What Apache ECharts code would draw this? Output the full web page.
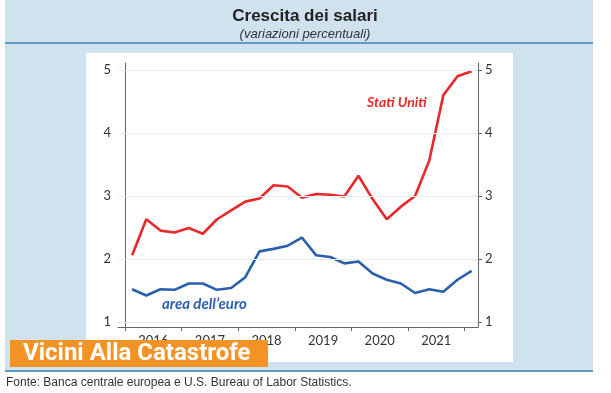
<!DOCTYPE html>
<html><head><meta charset="utf-8">
<script src="https://cdn.jsdelivr.net/npm/echarts@6/dist/echarts.min.js"></script>
<style>html,body{margin:0;padding:0;background:#fff}#c{width:611px;height:393px}</style>
</head><body><div id="c"></div>
<script>
const quarters = ['2016Q1','2016Q2','2016Q3','2016Q4','2017Q1','2017Q2','2017Q3','2017Q4',
  '2018Q1','2018Q2','2018Q3','2018Q4','2019Q1','2019Q2','2019Q3','2019Q4',
  '2020Q1','2020Q2','2020Q3','2020Q4','2021Q1','2021Q2','2021Q3','2021Q4','2022Q1'];
const statiUniti = [2.06,2.63,2.45,2.42,2.49,2.40,2.63,2.77,2.91,2.96,3.17,3.15,2.97,3.03,3.02,2.99,
  3.32,2.95,2.63,2.83,3.00,3.56,4.60,4.90,4.98];
const areaEuro = [1.52,1.42,1.52,1.51,1.61,1.61,1.51,1.54,1.71,2.12,2.16,2.21,2.34,2.06,2.03,1.93,
  1.96,1.77,1.67,1.61,1.46,1.52,1.48,1.67,1.81];
const years = ['2016','2017','2018','2019','2020','2021'];
const yTicks = [1,2,3,4,5];

const pos = i => i + 0.5;
const toPairs = arr => arr.map((v,i) => [pos(i), v]);
const yearTickVals = years.map((y,k) => k*4).concat([years.length*4]);
const yearLabelVals = years.map((y,k) => k*4 + 2);

const chart = echarts.init(document.getElementById('c'), null, {renderer:'canvas'});
const axisFont = {fontFamily:'Lato', fontSize:13, color:'#333'};
const yAxisCommon = {
  type:'value', min:0.92, max:5.11,
  axisLine:{show:true, lineStyle:{color:'#666', width:1}},
  axisTick:{show:true, length:4, lineStyle:{color:'#666'}, customValues: yTicks},
  axisLabel:Object.assign({margin:7, customValues: yTicks}, axisFont),
  splitLine:{show:false}
};
chart.setOption({
  animation:false,
  title:{
    text:'Crescita dei salari', subtext:'(variazioni percentuali)',
    left:300, textAlign:'center', top:3, itemGap:3,
    textStyle:{fontFamily:'Liberation Sans', fontSize:17, fontWeight:'bold', color:'#222'},
    subtextStyle:{fontFamily:'Liberation Sans', fontSize:13, fontStyle:'italic', color:'#333'}
  },
  grid:{left:118, right:133, top:63, bottom:66, containLabel:false},
  xAxis:{
    type:'value', min:-0.5, max:24.95,
    axisLine:{show:true, onZero:false, lineStyle:{color:'#666'}},
    axisTick:{show:true, length:4, lineStyle:{color:'#666'}, customValues: yearTickVals},
    axisLabel:Object.assign({margin:7, customValues: yearLabelVals,
      formatter: v => years[Math.round((v-2)/4)]}, axisFont),
    splitLine:{show:false}
  },
  yAxis:[
    Object.assign({position:'left'}, yAxisCommon),
    Object.assign({position:'right'}, yAxisCommon)
  ],
  series:[
    {name:'grid', type:'line', data:[], markLine:{silent:true, symbol:'none', label:{show:false},
      lineStyle:{color:'#e2eff3', width:1, type:'solid'},
      data: yTicks.map(v => ({yAxis:v}))}},
    {name:'Stati Uniti', type:'line', data:toPairs(statiUniti), showSymbol:false,
      lineStyle:{color:'#e8292c', width:2.6}, z:3},
    {name:"area dell'euro", type:'line', data:toPairs(areaEuro), showSymbol:false,
      lineStyle:{color:'#2a5fae', width:2.6}, z:3}
  ],
  graphic:[
    {type:'rect', z:-20, shape:{x:5, y:0, width:588, height:370}, style:{fill:'#d0e2ed'}},
    {type:'rect', z:-19, shape:{x:86, y:53, width:427, height:309}, style:{fill:'#ffffff'}},
    {type:'line', z:-18, shape:{x1:5, y1:43, x2:593, y2:43}, style:{stroke:'#5f9bbd', lineWidth:2}},
    {type:'line', z:-18, shape:{x1:5, y1:371, x2:593, y2:371}, style:{stroke:'#5f9bbd', lineWidth:2}},
    {type:'text', z:10, x:367, y:102, style:{text:'Stati Uniti', fill:'#e8292c',
      font:'italic bold 14px Lato', textVerticalAlign:'middle'}},
    {type:'text', z:10, x:162, y:304, style:{text:"area dell\u2019euro", fill:'#2a5fae',
      font:'italic bold 15px Lato', textVerticalAlign:'middle'}},
    {type:'rect', z:100, shape:{x:10, y:340, width:258, height:27}, style:{fill:'#f39325'}},
    {type:'text', z:101, x:23, y:354, style:{text:'Vicini Alla Catastrofe', fill:'#ffffff',
      font:'bold 24px Roboto', textVerticalAlign:'middle'}},
    {type:'text', z:10, x:6, y:383, style:{text:'Fonte: Banca centrale europea e U.S. Bureau of Labor Statistics.',
      fill:'#333', font:'12px "Liberation Sans"', textVerticalAlign:'middle'}}
  ]
});
</script></body></html>
